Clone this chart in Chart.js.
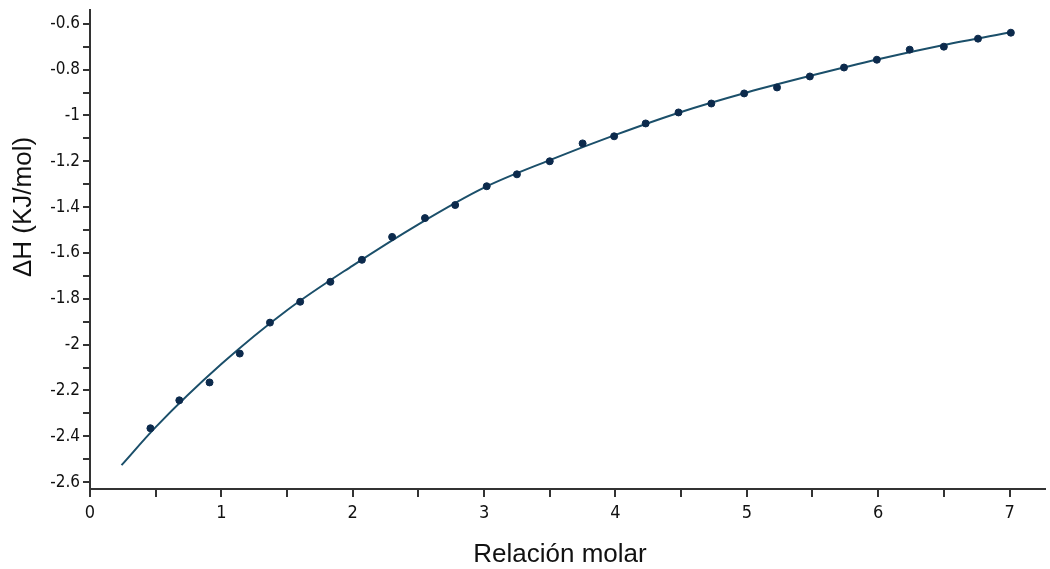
<!DOCTYPE html>
<html>
<head>
<meta charset="utf-8">
<script src="https://cdn.jsdelivr.net/npm/chart.js@4"></script>
<style>
  body { margin: 0; background: #fff; }
</style>
</head>
<body>
<canvas id="chart" width="1050" height="569"></canvas>
<script>
'use strict';
// measured points (molar ratio vs enthalpy)
let ratioValues = [0.46, 0.68, 0.91, 1.14, 1.37, 1.60, 1.83, 2.07, 2.30, 2.55, 2.78, 3.02, 3.25, 3.50,
  3.75, 3.99, 4.23, 4.48, 4.73, 4.98, 5.23, 5.48, 5.74, 5.99, 6.24, 6.50, 6.76, 7.01];
let enthalpyValues = [-2.365, -2.243, -2.165, -2.039, -1.904, -1.813, -1.726, -1.630, -1.530, -1.448,
  -1.391, -1.309, -1.257, -1.200, -1.122, -1.091, -1.035, -0.987, -0.948, -0.904, -0.878, -0.830,
  -0.791, -0.757, -0.713, -0.700, -0.665, -0.639];

// fitted curve
let fitRatio = [0.24, 0.5, 1.0, 1.5, 2.0, 2.5, 3.0, 3.5, 4.0, 4.5, 5.0, 5.5, 6.0, 6.5, 7.02];
let fitEnthalpy = [-2.526, -2.36, -2.085, -1.85, -1.655, -1.475, -1.315, -1.195, -1.085, -0.985,
  -0.90, -0.825, -0.755, -0.693, -0.636];

let xTitle = 'Relación molar';
let yTitle = 'ΔH (KJ/mol)';

function toPoints(xs, ys){
  let pts = [];
  for (let i = 0; i < xs.length; i++){
    pts.push({x: xs[i], y: ys[i]});
  }
  return pts;
}

//draws the axis titles where the original has them
let axisTitles = {
  id: 'axisTitles',
  afterDraw(chart){
    let ctx = chart.ctx;
    ctx.save();
    ctx.fillStyle = '#111';
    ctx.font = '26px "Liberation Sans", Arial, sans-serif';
    ctx.textAlign = 'center';
    ctx.textBaseline = 'middle';
    ctx.fillText(xTitle, 560, 555);
    ctx.translate(24, 207);
    ctx.rotate(-Math.PI / 2);
    ctx.fillText(yTitle, 0, 0);
    ctx.restore();
  }
};

let tickFamily = '"DejaVu Sans Condensed", "DejaVu Sans", sans-serif';

let ctx = document.getElementById('chart').getContext('2d');
new Chart(ctx, {
  type: 'scatter',
  data: {
    datasets: [{
      label: 'fit',
      data: toPoints(fitRatio, fitEnthalpy),
      showLine: true,
      borderColor: '#1b4f6a',
      borderWidth: 2,
      pointRadius: 0,
      cubicInterpolationMode: 'monotone',
      order: 2
    }, {
      label: 'data',
      data: toPoints(ratioValues, enthalpyValues),
      showLine: false,
      backgroundColor: '#0c2a4c',
      borderColor: '#0c2a4c',
      pointRadius: 3.5,
      order: 1
    }]
  },
  options: {
    responsive: false,
    devicePixelRatio: 1,
    animation: false,
    layout: {padding: {top: 10, right: 0, left: 0, bottom: 0}},
    plugins: {
      legend: {display: false},
      tooltip: {enabled: false}
    },
    scales: {
      x: {
        type: 'linear',
        min: 0,
        max: 7.27,
        afterFit(scale){
          scale.height = 80;
          scale.paddingLeft = 0;
          scale.paddingRight = 0;
        },
        border: {display: true, color: '#333', width: 2},
        grid: {drawOnChartArea: false, tickLength: 8, color: '#333', lineWidth: 2},
        ticks: {
          stepSize: 0.5,
          includeBounds: false,
          autoSkip: false,
          maxRotation: 0,
          padding: 6,
          color: '#111',
          font: {family: tickFamily, size: 18},
          callback: function(v){
            return Number.isInteger(Math.round(v * 10) / 10) ? String(Math.round(v)) : '';
          }
        }
      },
      y: {
        type: 'linear',
        min: -2.63,
        max: -0.54,
        afterFit(scale){
          scale.width = 90;
          scale.paddingTop = 0;
          scale.paddingBottom = 0;
        },
        border: {display: true, color: '#333', width: 2},
        grid: {drawOnChartArea: false, tickLength: 7, color: '#333', lineWidth: 2},
        ticks: {
          stepSize: 0.1,
          includeBounds: false,
          autoSkip: false,
          padding: 3,
          color: '#111',
          font: {family: tickFamily, size: 17},
          callback: function(v){
            let t = Math.round(v * 10);
            return t % 2 === 0 ? String(t / 10) : '';
          }
        }
      }
    }
  },
  plugins: [axisTitles]
});
</script>
</body>
</html>
